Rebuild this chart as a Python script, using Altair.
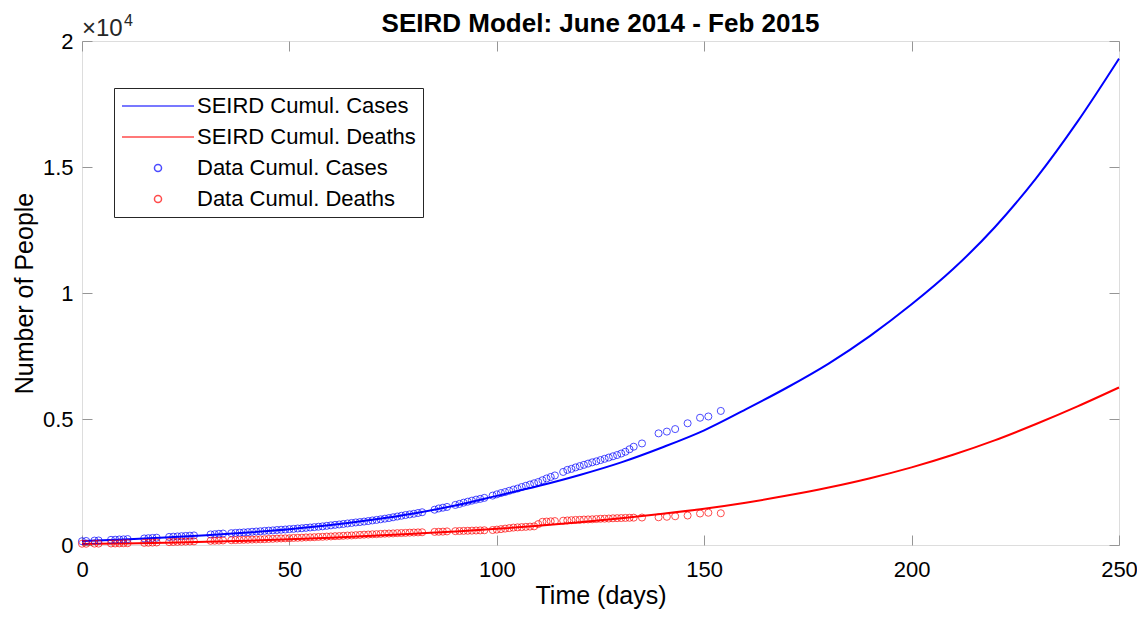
import altair as alt
import pandas as pd

# ---- model curves (read every 10 days) ----
model_days = list(range(0, 251, 10))
model_cases = [160, 220, 295, 385, 495, 625, 790, 1000, 1250, 1570,
               1950, 2340, 2780, 3280, 3880, 4550, 5380, 6250, 7200, 8300,
               9550, 10950, 12600, 14550, 16800, 19300]
model_deaths = [40, 60, 90, 125, 170, 225, 290, 365, 450, 540,
                640, 760, 900, 1060, 1240, 1440, 1680, 1960, 2280, 2650,
                3080, 3580, 4150, 4800, 5500, 6250]

# ---- observed data ----
data_days = [0, 1, 3, 4,
             7, 8, 9, 10, 11,
             15, 16, 17, 18,
             21, 22, 23, 24, 25, 26, 27,
             31, 32, 33, 34,
             36, 37, 38, 39, 40, 41, 42, 43, 44, 45, 46, 47, 48, 49, 50, 51,
             52, 53, 54, 55, 56, 57, 58, 59, 60, 61, 62, 63, 64, 65, 66, 67,
             68, 69, 70, 71, 72, 73, 74, 75, 76, 77, 78, 79, 80, 81, 82,
             85, 86, 87, 88,
             90, 91, 92, 93, 94, 95, 96, 97,
             99, 100, 101, 102, 103, 104, 105, 106, 107, 108, 109, 110, 111,
             112, 113, 114,
             116, 117, 118, 119, 120, 121, 122, 123, 124, 125, 126, 127, 128,
             129, 130, 131, 132, 133,
             135, 139, 141, 143, 146, 149, 151, 154]
data_cases = [150, 160, 175, 180,
              205, 210, 220, 225, 235,
              260, 270, 280, 290,
              320, 330, 340, 350, 360, 370, 380,
              420, 430, 445, 455,
              470, 480, 490, 500, 510, 525, 535, 545, 560, 570, 580, 595, 605,
              615, 630, 640, 655, 665, 680, 695, 710, 725, 740, 760, 780, 800,
              815, 835, 855, 875, 895, 910, 930, 950, 975, 995, 1020, 1045,
              1070, 1100, 1130, 1160, 1190, 1215, 1240, 1270, 1300,
              1400, 1450, 1480, 1510,
              1590, 1630, 1680, 1720, 1760, 1800, 1830, 1870,
              1960, 2010, 2060, 2100, 2150, 2200, 2240, 2300, 2350, 2400, 2450,
              2500, 2570, 2640, 2700, 2760,
              2900, 2980, 3020, 3080, 3130, 3180, 3230, 3280, 3320, 3370, 3420,
              3470, 3520, 3570, 3630, 3700, 3800, 3900,
              4030, 4430, 4500, 4600, 4830, 5050, 5100, 5320]
data_deaths = [50, 50, 55, 55,
               60, 62, 65, 70, 72,
               85, 90, 95, 100,
               115, 120, 125, 130, 135, 140, 145,
               165, 170, 175, 180,
               190, 195, 200, 205, 210, 215, 220, 225, 230, 240,
               245, 255, 260, 265, 270, 280, 285, 290, 300, 305,
               310, 320, 325, 335, 340, 350, 355, 365, 375, 380,
               390, 400, 410, 415, 425, 430, 440, 450, 455, 460,
               470, 475, 480, 490, 495, 500, 505,
               520, 525, 530, 540,
               550, 555, 560, 565, 570, 575, 580, 585,
               595, 610, 630, 650, 670, 690, 700, 710, 720, 730, 740, 830, 920,
               930, 940, 950,
               965, 975, 985, 995, 1000, 1010, 1015, 1020, 1030, 1040, 1045,
               1050, 1060, 1065, 1070, 1075, 1080, 1085,
               1090, 1100, 1120, 1140, 1170, 1250, 1280, 1260]

series_names = ["SEIRD Cumul. Cases", "SEIRD Cumul. Deaths",
                "Data Cumul. Cases", "Data Cumul. Deaths"]
series_colors = ["#0000ff", "#ff0000", "#0000ff", "#ff0000"]
series_shapes = ["stroke", "stroke", "circle", "circle"]
series_sizes = [5184, 5184, 50, 50]
x_ticks = [0, 50, 100, 150, 200, 250]
y_ticks = [0, 5000, 10000, 15000, 20000]
chart_title = "SEIRD Model: June 2014 - Feb 2015"

model_df = pd.concat([
    pd.DataFrame({"t": model_days, "value": model_cases, "series": series_names[0]}),
    pd.DataFrame({"t": model_days, "value": model_deaths, "series": series_names[1]}),
])
data_df = pd.concat([
    pd.DataFrame({"t": data_days, "value": data_cases, "series": series_names[2]}),
    pd.DataFrame({"t": data_days, "value": data_deaths, "series": series_names[3]}),
])

FONT = "Liberation Sans"
GRAY = "#969696"
xscale = alt.Scale(domain=[0, 250], nice=False, zero=False)
yscale = alt.Scale(domain=[0, 20000], nice=False)
cscale = alt.Scale(domain=series_names, range=series_colors)
shscale = alt.Scale(domain=series_names, range=series_shapes)
szscale = alt.Scale(type="ordinal", domain=series_names, range=series_sizes)

legend = alt.Legend(
    title=None, orient="none", legendX=32, legendY=47,
    labelFontSize=22, labelFont=FONT, labelColor="#000000", labelLimit=400,
    strokeColor="#262626", fillColor="white", padding=7,
    symbolStrokeWidth=1.5, labelOffset=2, rowPadding=9, clipHeight=22,
    symbolFillColor="transparent",
)

common_axis = dict(offset=-10, tickSize=10, domain=False, grid=False,
                   tickColor=GRAY, tickWidth=1, labelFlush=False)
bottom_axis = alt.Axis(orient="bottom", values=x_ticks, title="Time (days)",
                       labelFontSize=22, labelPadding=14, titleFontSize=25,
                       titlePadding=3, titleFontWeight="normal", **common_axis)
left_axis = alt.Axis(orient="left", values=y_ticks, title="Number of People",
                     labelExpr="datum.value / 10000",
                     labelFontSize=22, labelPadding=9, titleFontSize=25,
                     titlePadding=5, titleFontWeight="normal", **common_axis)
top_axis = alt.Axis(orient="top", values=x_ticks, title=None, labels=False,
                    **common_axis)
right_axis = alt.Axis(orient="right", values=y_ticks, title=None, labels=False,
                      **common_axis)

lines = alt.Chart(model_df).mark_line(strokeWidth=2, interpolate="monotone").encode(
    x=alt.X("t:Q", scale=xscale, axis=bottom_axis),
    y=alt.Y("value:Q", scale=yscale, axis=left_axis),
    color=alt.Color("series:N", scale=cscale, legend=legend),
)
points = alt.Chart(data_df).mark_point(filled=False, strokeWidth=1).encode(
    x=alt.X("t:Q", scale=xscale, axis=top_axis),
    y=alt.Y("value:Q", scale=yscale, axis=right_axis),
    color=alt.Color("series:N", scale=cscale, legend=legend),
    shape=alt.Shape("series:N", scale=shscale, legend=legend),
    size=alt.Size("series:N", scale=szscale, legend=legend),
)

exp_main = alt.Chart(pd.DataFrame({"txt": ["×10"]})).mark_text(
    align="left", baseline="alphabetic", fontSize=24, dy=-5,
    color="#262626", font=FONT).encode(
    x=alt.XDatum(0, type="quantitative", axis=None),
    y=alt.YDatum(20000, type="quantitative", axis=None),
    text="txt:N",
)
exp_sup = alt.Chart(pd.DataFrame({"txt": ["4"]})).mark_text(
    align="left", baseline="alphabetic", fontSize=16, dx=42, dy=-15,
    color="#262626", font=FONT).encode(
    x=alt.XDatum(0, type="quantitative", axis=None),
    y=alt.YDatum(20000, type="quantitative", axis=None),
    text="txt:N",
)
title_mark = alt.Chart(pd.DataFrame({"txt": [chart_title]})).mark_text(
    align="center", baseline="alphabetic", fontSize=26, fontWeight="bold",
    dy=-9, color="#000000", font=FONT).encode(
    x=alt.XDatum(125, type="quantitative", axis=None),
    y=alt.YDatum(20000, type="quantitative", axis=None),
    text="txt:N",
)

chart = alt.layer(lines, points, exp_main, exp_sup, title_mark).resolve_axis(
    x="independent", y="independent"
).properties(
    width=1037, height=504,
    autosize=alt.AutoSizeParams(type="none"),
    padding={"left": 74, "top": 33, "right": 18, "bottom": 64},
).configure_view(stroke=GRAY, strokeWidth=1).configure_axis(
    labelFont=FONT, titleFont=FONT, labelColor="#262626", titleColor="#262626"
).configure(background="white")

chart.save("out.html", embed_options={"renderer": "svg", "actions": False})
